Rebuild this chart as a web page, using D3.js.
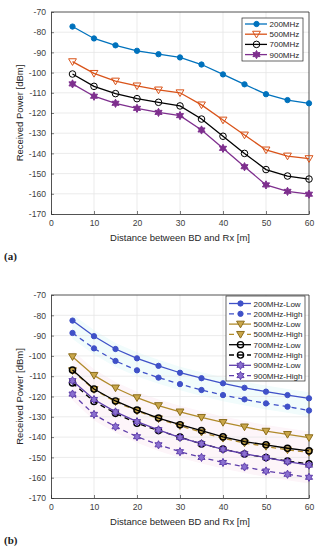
<!DOCTYPE html>
<html><head><meta charset="utf-8">
<script src="https://cdn.jsdelivr.net/npm/d3@7"></script>
<style>
html,body{margin:0;padding:0;background:#fff;}
svg{display:block;font-family:"Liberation Sans",Arial,sans-serif;}
</style></head>
<body><svg id="c" width="318" height="550"></svg>
<script>
// ---------- data ----------
const distances = [5,10,15,20,25,30,35,40,45,50,55,60];
const xTicks = [0,10,20,30,40,50,60];
const yTicks = [-70,-80,-90,-100,-110,-120,-130,-140,-150,-160,-170];

// panel (a)
const a200 = [-77.2,-83.1,-86.5,-89.2,-90.9,-92.5,-96.0,-100.9,-105.8,-110.7,-113.6,-115.2];
const a500 = [-94.6,-100.4,-104.2,-106.6,-108.6,-110.0,-116.0,-123.5,-130.9,-138.3,-141.3,-142.6];
const a700 = [-100.7,-106.8,-110.4,-112.9,-114.7,-116.5,-123.0,-131.5,-140.0,-148.0,-151.2,-152.7];
const a900 = [-105.6,-111.7,-115.2,-117.7,-119.7,-121.3,-128.4,-137.5,-146.6,-155.6,-158.8,-160.2];
const aNames = ["200MHz","500MHz","700MHz","900MHz"];

// panel (b)
const b200Low  = [-82.6,-90.3,-96.6,-101.2,-104.9,-108.3,-111.0,-113.5,-115.7,-117.6,-119.3,-120.9];
const b200High = [-88.7,-96.3,-102.5,-107.1,-110.7,-113.9,-116.8,-119.3,-121.4,-123.4,-125.0,-126.9];
const b500Low  = [-100.4,-109.6,-115.8,-120.6,-124.5,-127.6,-130.3,-132.8,-135.0,-137.1,-138.7,-140.3];
const b500High = [-107.3,-116.6,-122.6,-127.1,-131.0,-134.4,-137.6,-140.6,-142.9,-144.6,-146.3,-147.5];
const b700Low  = [-107.0,-116.3,-122.2,-126.7,-130.6,-133.9,-136.8,-139.9,-142.2,-143.8,-145.5,-146.8];
const b700High = [-113.3,-122.5,-128.3,-133.2,-136.8,-140.0,-143.4,-145.9,-148.3,-150.1,-151.8,-153.2];
const b900Low  = [-112.2,-121.5,-127.6,-132.4,-136.4,-140.2,-143.2,-146.0,-148.2,-150.1,-152.1,-153.8];
const b900High = [-118.8,-128.8,-134.9,-139.8,-143.8,-147.2,-150.0,-152.5,-154.7,-156.7,-158.3,-159.8];
const bNames = ["200MHz-Low","200MHz-High","500MHz-Low","500MHz-High","700MHz-Low","700MHz-High","900MHz-Low","900MHz-High"];

const xLabel = "Distance between BD and Rx [m]";
const yLabel = "Received Power [dBm]";

// ---------- helpers ----------
const hexagram = {
  draw(ctx, size){
    const R = Math.sqrt(size)*0.62, r = R*0.55;
    for(let i=0;i<12;i++){
      const ang = -Math.PI/2 + i*Math.PI/6;
      const rad = i%2===0 ? R : r;
      const x = rad*Math.cos(ang), y = rad*Math.sin(ang);
      if(i===0) ctx.moveTo(x,y); else ctx.lineTo(x,y);
    }
    ctx.closePath();
  }
};
const triDown = {
  draw(ctx,size){
    const s = Math.sqrt(size)*0.62;
    ctx.moveTo(-s,-s*0.75); ctx.lineTo(s,-s*0.75); ctx.lineTo(0,s*0.95); ctx.closePath();
  }
};

const svg = d3.select("#c");

function panel(cfg){
  const g = svg.append("g");
  const x = d3.scaleLinear().domain([0,60]).range([cfg.left,cfg.right]);
  const y = d3.scaleLinear().domain([-170,-70]).range([cfg.bottom,cfg.top]);
  g.append("rect").attr("x",cfg.left).attr("y",cfg.top).attr("width",cfg.right-cfg.left)
    .attr("height",cfg.bottom-cfg.top).attr("fill","#fff");
  if(cfg.bands){
    cfg.bands.forEach(b=>{
      const area = d3.area().x((d,i)=>x(distances[i])).y0((d,i)=>y(b.lo[i]-b.pad)).y1((d,i)=>y(b.hi[i]+b.pad)).curve(d3.curveLinear);
      g.append("path").datum(b.hi).attr("d",area).attr("fill",b.color);
    });
  }
  // grid
  g.append("g").selectAll("line").data(xTicks.slice(1,-1)).join("line")
    .attr("x1",d=>x(d)).attr("x2",d=>x(d)).attr("y1",cfg.top).attr("y2",cfg.bottom)
    .attr("stroke","#e6e6e6").attr("stroke-width",0.8);
  g.append("g").selectAll("line").data(yTicks.slice(1,-1)).join("line")
    .attr("y1",d=>y(d)).attr("y2",d=>y(d)).attr("x1",cfg.left).attr("x2",cfg.right)
    .attr("stroke","#e6e6e6").attr("stroke-width",0.8);
  // axes via d3
  const xa = g.append("g").attr("transform",`translate(0,${cfg.bottom})`)
    .call(d3.axisBottom(x).tickValues(xTicks).tickSizeInner(-3).tickSizeOuter(0).tickPadding(6));
  const ya = g.append("g").attr("transform",`translate(${cfg.left},0)`)
    .call(d3.axisLeft(y).tickValues(yTicks).tickSizeInner(-3).tickSizeOuter(0).tickPadding(5).tickFormat(d=>d));
  [xa,ya].forEach(a=>{
    a.select(".domain").attr("stroke","#262626").attr("stroke-width",0.8);
    a.selectAll(".tick line").attr("stroke","#262626").attr("stroke-width",0.6);
    a.selectAll("text").attr("fill","#404040").attr("font-size","8.6px")
      .attr("font-family","Liberation Sans, Arial, sans-serif");
  });
  g.append("line").attr("x1",cfg.left).attr("x2",cfg.right).attr("y1",cfg.top).attr("y2",cfg.top).attr("stroke","#262626").attr("stroke-width",0.8);
  g.append("line").attr("x1",cfg.right).attr("x2",cfg.right).attr("y1",cfg.top).attr("y2",cfg.bottom).attr("stroke","#262626").attr("stroke-width",0.8);
  // series
  const line = d3.line().x((d,i)=>x(distances[i])).y(d=>y(d));
  cfg.series.forEach(s=>{
    g.append("path").datum(s.values).attr("d",line).attr("fill","none")
      .attr("stroke",s.color).attr("stroke-width",s.lw||1.3)
      .attr("stroke-dasharray",s.dash?"5,4":null);
    g.append("g").selectAll("path").data(s.values).join("path")
      .attr("transform",(d,i)=>`translate(${x(distances[i])},${y(d)})`)
      .attr("d",d3.symbol().type(s.sym).size(s.size))
      .attr("fill",s.fill).attr("stroke",s.mstroke||s.color).attr("stroke-width",s.msw||1);
  });
  // labels
  g.append("text").attr("x",(cfg.left+cfg.right)/2).attr("y",cfg.bottom+27).attr("text-anchor","middle")
    .attr("font-size","9.5px").attr("fill","#262626").text(xLabel);
  g.append("text").attr("transform",`translate(${cfg.left-28},${(cfg.top+cfg.bottom)/2}) rotate(-90)`)
    .attr("text-anchor","middle").attr("font-size","9.5px").attr("fill","#262626").text(yLabel);
  g.append("text").attr("x",4).attr("y",cfg.bottom+46).attr("font-family","Liberation Serif, serif")
    .attr("font-weight","bold").attr("font-size","11px").attr("fill","#222").text(cfg.tag);
  // legend
  const L = cfg.legend;
  g.append("rect").attr("x",L.x).attr("y",L.y).attr("width",L.w).attr("height",L.h)
    .attr("fill","#fff").attr("stroke","#262626").attr("stroke-width",0.7);
  cfg.series.forEach((s,i)=>{
    const yy = L.y + L.first + i*L.step;
    g.append("line").attr("x1",L.x+3).attr("x2",L.x+25).attr("y1",yy).attr("y2",yy)
      .attr("stroke",s.color).attr("stroke-width",s.lw||1.3).attr("stroke-dasharray",s.dash?"5,4":null);
    g.append("path").attr("transform",`translate(${L.x+14.5},${yy})`)
      .attr("d",d3.symbol().type(s.sym).size(s.size))
      .attr("fill",s.fill).attr("stroke",s.mstroke||s.color).attr("stroke-width",s.msw||1);
    g.append("text").attr("x",L.x+27.5).attr("y",yy+3).attr("font-size","8px").attr("fill","#262626").text(cfg.names[i]);
  });
}

// ---------- panel (a) ----------
panel({
  left:51,right:309,top:12,bottom:214,tag:"(a)",names:aNames,
  legend:{x:242,y:18,w:61,h:43,first:6,step:10.2},
  series:[
    {values:a200,color:"#0072BD",sym:d3.symbolCircle,size:22,fill:"#0072BD"},
    {values:a500,color:"#D95319",sym:triDown,size:40,fill:"none"},
    {values:a700,color:"#000000",sym:d3.symbolCircle,size:34,fill:"none"},
    {values:a900,color:"#7E2F8E",sym:hexagram,size:44,fill:"#7E2F8E"}
  ]
});

// ---------- panel (b) ----------
panel({
  left:51,right:309,top:295,bottom:498,tag:"(b)",names:bNames,
  legend:{x:226,y:296,w:79,h:85,first:7.5,step:10.3},
  bands:[
    {hi:b200Low,lo:b200High,pad:3,color:"#f1fcfc"},
    {hi:b500Low,lo:b900High,pad:3,color:"#fdf5f9"}
  ],
  series:[
    {values:b200Low,color:"#3F51C8",sym:d3.symbolCircle,size:22,fill:"#3F51C8"},
    {values:b200High,color:"#3F51C8",sym:d3.symbolCircle,size:22,fill:"#3F51C8",dash:true},
    {values:b500Low,color:"#B08A2A",sym:triDown,size:40,fill:"#C9A64A",mstroke:"#8C6D1C"},
    {values:b500High,color:"#B08A2A",sym:triDown,size:40,fill:"#C9A64A",mstroke:"#8C6D1C",dash:true},
    {values:b700Low,color:"#000000",sym:d3.symbolCircle,size:30,fill:"none",msw:1.4},
    {values:b700High,color:"#000000",sym:d3.symbolCircle,size:30,fill:"none",msw:1.4,dash:true},
    {values:b900Low,color:"#5E3DAA",sym:hexagram,size:44,fill:"#8a6fd0"},
    {values:b900High,color:"#5E3DAA",sym:hexagram,size:44,fill:"#8a6fd0",dash:true}
  ]
});
</script></body></html>
